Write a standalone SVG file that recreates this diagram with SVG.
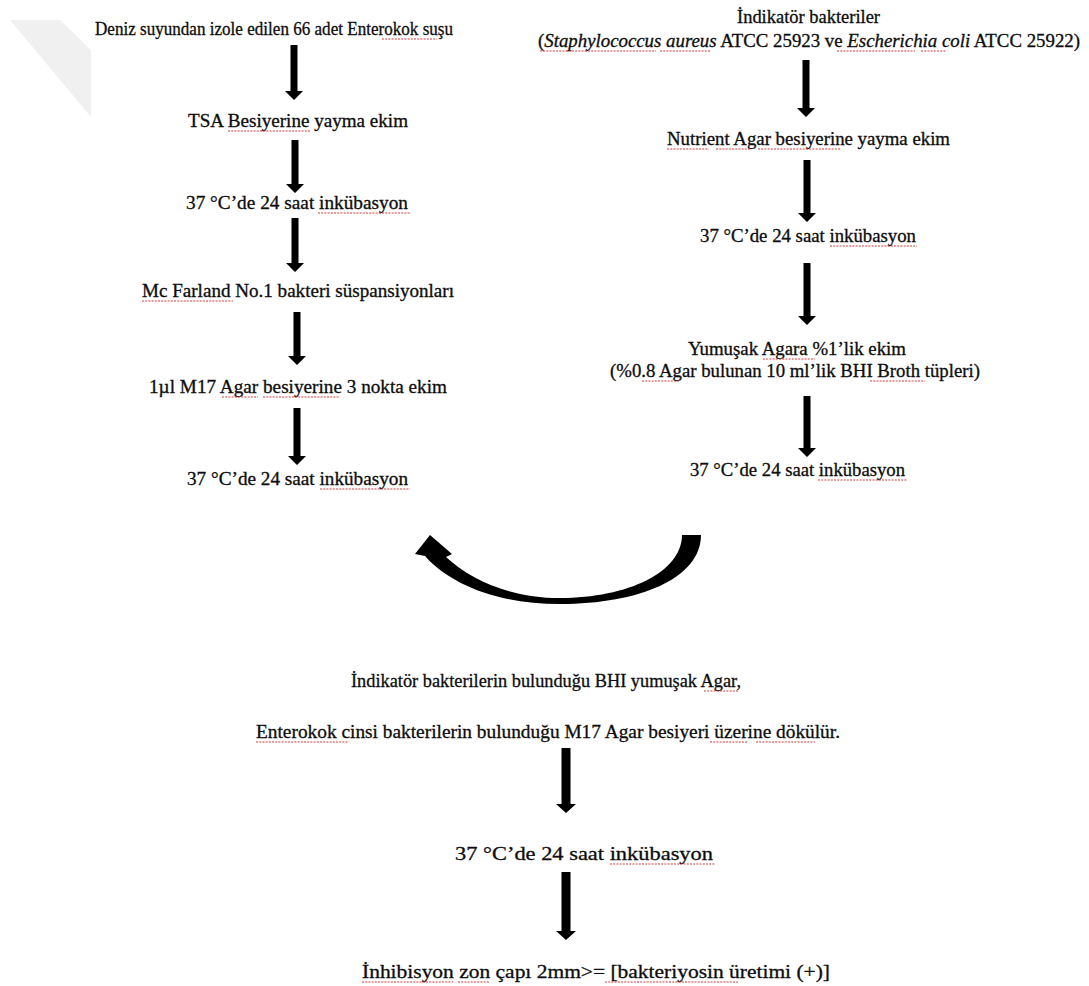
<svg xmlns="http://www.w3.org/2000/svg" width="1089" height="986" viewBox="0 0 1089 986">
<style>
  text { font-family: 'Liberation Serif', 'DejaVu Serif', serif; font-size: 18px; fill: #0d0d0d; stroke: #0d0d0d; stroke-width: 0.3; }
  .b { font-size: 19px; }
  .arr { fill: #000; }
  .sq { stroke: #d83a3a; stroke-width: 1.2; stroke-dasharray: 2 1.2; fill: none; }
</style>
<rect width="1089" height="986" fill="#ffffff"/>
<polygon points="10,20 60,20 91,50 91,117" fill="#f0f0f0"/>

<g id="connectors">
  <polygon class="arr" points="290.5,45 297.5,45 297.5,91 303,91 294,100 285,91 290.5,91"/>
  <polygon class="arr" points="291.5,140 298.5,140 298.5,184 304,184 295,193 286,184 291.5,184"/>
  <polygon class="arr" points="291.5,218 298.5,218 298.5,263 304,263 295,272 286,263 291.5,263"/>
  <polygon class="arr" points="293.5,312 300.5,312 300.5,356 306,356 297,365 288,356 293.5,356"/>
  <polygon class="arr" points="293.5,408 300.5,408 300.5,456 306,456 297,465 288,456 293.5,456"/>
  <polygon class="arr" points="802.5,60 809.5,60 809.5,108 815,108 806,117 797,108 802.5,108"/>
  <polygon class="arr" points="803.5,160 810.5,160 810.5,213 816,213 807,222 798,213 803.5,213"/>
  <polygon class="arr" points="803.5,263 810.5,263 810.5,316 816,316 807,325 798,316 803.5,316"/>
  <polygon class="arr" points="803.5,396 810.5,396 810.5,448 816,448 807,457 798,448 803.5,448"/>
  <polygon class="arr" points="561.5,748 570.5,748 570.5,804 576,804 566,813 556,804 561.5,804"/>
  <polygon class="arr" points="561.5,872 570.5,872 570.5,931 576,931 566,940 556,931 561.5,931"/>
  <path class="arr" d="M701 535 C701 578 640 604 560 604 C500 604 452 586 425 556 L415 554 L430 535 L452 554 L446 557 C472 581 512 598 560 598 C628 598 682 572 682 535 Z"/>
</g>

<g id="node-L1">
  <text x="95" y="35" textLength="358" lengthAdjust="spacingAndGlyphs">Deniz suyundan izole edilen 66 adet Enterokok suşu</text>
  <line class="sq" x1="382" y1="39" x2="437" y2="39"/>
</g>
<g id="node-L2">
  <text x="188" y="127" textLength="220" lengthAdjust="spacingAndGlyphs">TSA Besiyerine yayma ekim</text>
  <line class="sq" x1="228" y1="131" x2="310" y2="131"/>
</g>
<g id="node-L3">
  <text x="186" y="209" textLength="222" lengthAdjust="spacingAndGlyphs">37 °C’de 24 saat inkübasyon</text>
  <line class="sq" x1="318" y1="213" x2="410" y2="213"/>
</g>
<g id="node-L4">
  <text x="142" y="297" textLength="312" lengthAdjust="spacingAndGlyphs">Mc Farland No.1 bakteri süspansiyonları</text>
  <line class="sq" x1="142" y1="301" x2="233" y2="301"/>
</g>
<g id="node-L5">
  <text x="149" y="393" textLength="298" lengthAdjust="spacingAndGlyphs">1µl M17 Agar besiyerine 3 nokta ekim</text>
  <line class="sq" x1="222" y1="397" x2="258" y2="397"/>
  <line class="sq" x1="263" y1="397" x2="340" y2="397"/>
</g>
<g id="node-L6">
  <text x="187" y="485" textLength="221" lengthAdjust="spacingAndGlyphs">37 °C’de 24 saat inkübasyon</text>
  <line class="sq" x1="320" y1="489" x2="410" y2="489"/>
</g>

<g id="node-R1">
  <text x="737" y="23" textLength="143" lengthAdjust="spacingAndGlyphs">İndikatör bakteriler</text>
  <text x="538" y="47" textLength="542" lengthAdjust="spacingAndGlyphs">(<tspan font-style="italic">Staphylococcus aureus</tspan> ATCC 25923 ve <tspan font-style="italic">Escherichia coli</tspan> ATCC 25922)</text>
  <line class="sq" x1="540" y1="51" x2="656" y2="51"/>
  <line class="sq" x1="660" y1="51" x2="710" y2="51"/>
  <line class="sq" x1="837" y1="51" x2="915" y2="51"/>
  <line class="sq" x1="921" y1="51" x2="946" y2="51"/>
</g>
<g id="node-R2">
  <text x="667" y="145" textLength="283" lengthAdjust="spacingAndGlyphs">Nutrient Agar besiyerine yayma ekim</text>
  <line class="sq" x1="667" y1="149" x2="709" y2="149"/>
  <line class="sq" x1="716" y1="149" x2="750" y2="149"/>
  <line class="sq" x1="758" y1="149" x2="841" y2="149"/>
</g>
<g id="node-R3">
  <text x="700" y="242" textLength="216" lengthAdjust="spacingAndGlyphs">37 °C’de 24 saat inkübasyon</text>
  <line class="sq" x1="830" y1="246" x2="917" y2="246"/>
</g>
<g id="node-R4">
  <text x="688" y="355" textLength="218" lengthAdjust="spacingAndGlyphs">Yumuşak Agara %1’lik  ekim</text>
  <text x="610" y="377" textLength="370" lengthAdjust="spacingAndGlyphs">(%0.8 Agar bulunan 10 ml’lik  BHI Broth tüpleri)</text>
  <line class="sq" x1="763" y1="359" x2="815" y2="359"/>
  <line class="sq" x1="642" y1="381" x2="679" y2="381"/>
  <line class="sq" x1="870" y1="381" x2="925" y2="381"/>
</g>
<g id="node-R5">
  <text x="690" y="476" textLength="215" lengthAdjust="spacingAndGlyphs">37 °C’de 24 saat inkübasyon</text>
  <line class="sq" x1="818" y1="480" x2="907" y2="480"/>
</g>

<g id="node-B1">
  <text class="b" x="351" y="687" textLength="390" lengthAdjust="spacingAndGlyphs">İndikatör bakterilerin bulunduğu BHI yumuşak Agar,</text>
  <line class="sq" x1="704" y1="691" x2="738" y2="691"/>
  <text class="b" x="256" y="738" textLength="584" lengthAdjust="spacingAndGlyphs">Enterokok cinsi bakterilerin bulunduğu M17 Agar besiyeri üzerine dökülür.</text>
  <line class="sq" x1="256" y1="742" x2="349" y2="742"/>
  <line class="sq" x1="710" y1="742" x2="748" y2="742"/>
  <line class="sq" x1="756" y1="742" x2="815" y2="742"/>
</g>
<g id="node-B2">
  <text class="b" x="455" y="860" textLength="258" lengthAdjust="spacingAndGlyphs">37 °C’de 24 saat inkübasyon</text>
  <line class="sq" x1="610" y1="864" x2="715" y2="864"/>
</g>
<g id="node-B3">
  <text class="b" x="362" y="978" textLength="468" lengthAdjust="spacingAndGlyphs">İnhibisyon zon çapı 2mm&gt;= [bakteriyosin  üretimi  (+)]</text>
  <line class="sq" x1="362" y1="982" x2="453" y2="982"/>
  <line class="sq" x1="458" y1="982" x2="490" y2="982"/>
  <line class="sq" x1="605" y1="982" x2="738" y2="982"/>
</g>
</svg>
